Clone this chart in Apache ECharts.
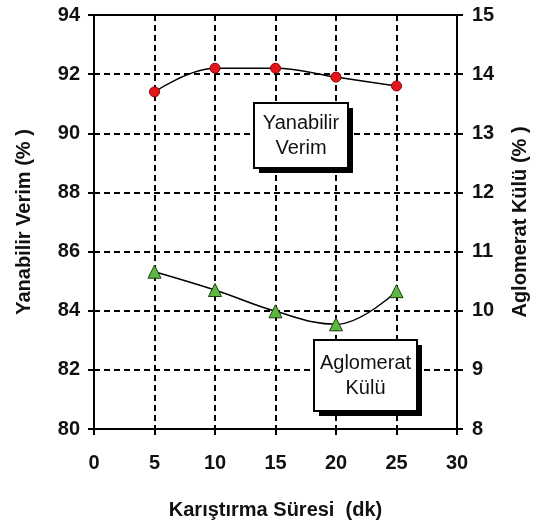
<!DOCTYPE html>
<html>
<head>
<meta charset="utf-8">
<script src="https://cdn.jsdelivr.net/npm/echarts@6/dist/echarts.min.js"></script>
<style>html,body{margin:0;padding:0;background:#fff}#c{width:535px;height:525px}</style>
</head>
<body>
<div id="c"></div>
<script>
var xValues = [5, 10, 15, 20, 25];
var yanabilirVerim = [91.4, 92.2, 92.2, 91.9, 91.6];
var aglomeratKulu = [10.66, 10.35, 9.99, 9.77, 10.33];
var xName = 'Karıştırma Süresi  (dk)';
var yLeftName = 'Yanabilir Verim (% )';
var yRightName = 'Aglomerat Külü (% )';
var label1 = ['Yanabilir', 'Verim'];
var label2 = ['Aglomerat', 'Külü'];

var FONT = '"Liberation Sans", Arial, sans-serif';
var chart = echarts.init(document.getElementById('c'), null, {renderer: 'canvas'});
function pairs(xs, ys) { return xs.map(function (x, i) { return [x, ys[i]]; }); }
function box(left, top, w, h, lines) {
  return {
    type: 'group', left: left, top: top, z: 100,
    children: [
      {type: 'rect', z: 100, shape: {x: 5, y: 5, width: w, height: h}, style: {fill: '#000'}},
      {type: 'rect', z: 101, shape: {x: 0, y: 0, width: w, height: h}, style: {fill: '#fff', stroke: '#000', lineWidth: 2}},
      {type: 'text', z: 102, x: w / 2, y: h / 2, style: {text: lines.join('\n'), font: '20px ' + FONT, fill: '#111', align: 'center', verticalAlign: 'middle', lineHeight: 25}}
    ]
  };
}
var axisLine = {lineStyle: {color: '#000', width: 2}};
var tick = {show: true, inside: false, length: 6, lineStyle: {color: '#000', width: 2}};
var lbl = {color: '#111', fontSize: 20, fontWeight: 'bold', fontFamily: FONT};
var nameStyle = {color: '#111', fontSize: 20, fontWeight: 'bold', fontFamily: FONT};
var split = {show: true, lineStyle: {color: '#000', type: [6, 4], width: 2}};
chart.setOption({
  animation: false,
  grid: {left: 94, right: 78, top: 15, bottom: 96, outerBoundsMode: 'none', containLabel: false, show: true, borderColor: '#000', borderWidth: 2, backgroundColor: 'transparent'},
  xAxis: {
    type: 'value', min: 0, max: 30, interval: 5,
    name: xName, nameLocation: 'middle', nameGap: 71, nameTextStyle: nameStyle,
    axisLine: axisLine, axisTick: tick, axisLabel: Object.assign({margin: 24}, lbl), splitLine: split
  },
  yAxis: [
    {
      type: 'value', min: 80, max: 94, interval: 2, position: 'left',
      name: yLeftName, nameLocation: 'middle', nameGap: 60, nameTextStyle: nameStyle,
      axisLine: Object.assign({show: true}, axisLine), axisTick: tick, axisLabel: Object.assign({margin: 14}, lbl), splitLine: split
    },
    {
      type: 'value', min: 8, max: 15, interval: 1, position: 'right',
      name: yRightName, nameLocation: 'middle', nameGap: 53, nameTextStyle: nameStyle,
      axisLine: Object.assign({show: true}, axisLine), axisTick: tick, axisLabel: Object.assign({margin: 15}, lbl), splitLine: {show: false}
    }
  ],
  series: [
    {
      type: 'line', yAxisIndex: 0, data: pairs(xValues, yanabilirVerim), smooth: 0.4,
      symbol: 'circle', symbolSize: 10,
      lineStyle: {color: '#000', width: 1.5},
      itemStyle: {color: '#e3161c', borderColor: '#8a0000', borderWidth: 1}
    },
    {
      type: 'line', yAxisIndex: 1, data: pairs(xValues, aglomeratKulu), smooth: 0.4,
      symbol: 'triangle', symbolSize: 13,
      lineStyle: {color: '#000', width: 1.5},
      itemStyle: {color: '#5cb840', borderColor: '#1d3d12', borderWidth: 1}
    }
  ],
  graphic: [
    box(253, 102, 94, 65, label1),
    box(313, 339, 103, 71, label2)
  ]
});
</script>
</body>
</html>
